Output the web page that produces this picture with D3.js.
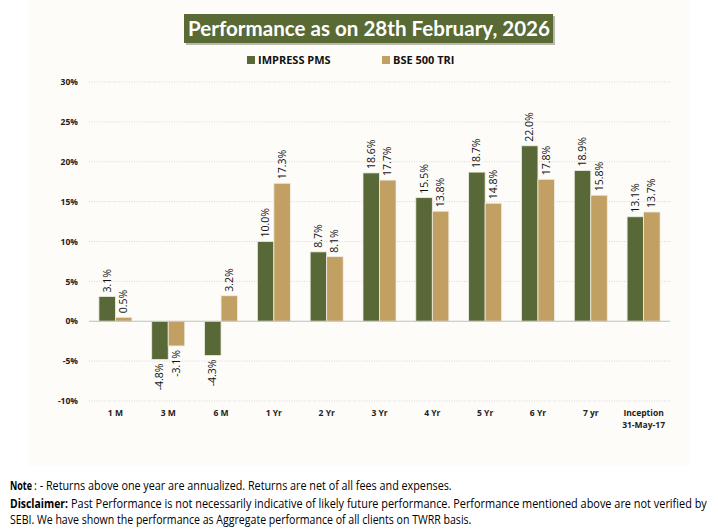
<!DOCTYPE html>
<html>
<head>
<meta charset="utf-8">
<script src="https://cdn.jsdelivr.net/npm/d3@7"></script>
<style>
  body { margin: 0; background: #fff; }
  svg text { font-family: "Open Sans", "DejaVu Sans", sans-serif; }
</style>
</head>
<body>
<div id="chart"></div>
<script>
// data
var periods = ["1 M", "3 M", "6 M", "1 Yr", "2 Yr", "3 Yr", "4 Yr", "5 Yr", "6 Yr", "7 yr", "Inception|31-May-17"];
var impressPms = [3.1, -4.8, -4.3, 10.0, 8.7, 18.6, 15.5, 18.7, 22.0, 18.9, 13.1];
var bse500Tri = [0.5, -3.1, 3.2, 17.3, 8.1, 17.7, 13.8, 14.8, 17.8, 15.8, 13.7];
var seriesNames = ["IMPRESS PMS", "BSE 500 TRI"];
var yTicks = [-10, -5, 0, 5, 10, 15, 20, 25, 30];

var svgWidth = 718, svgHeight = 529;
var margin = { top: 82, right: 48, bottom: 128, left: 89 };
var width = svgWidth - margin.left - margin.right;
var height = svgHeight - margin.top - margin.bottom;

var colors = ["#586937", "#c29f63"];

var svg = d3.select("#chart").append("svg")
  .attr("width", svgWidth)
  .attr("height", svgHeight);

// panel background
svg.append("rect")
  .attr("x", 28).attr("y", 0)
  .attr("width", 662).attr("height", 466)
  .attr("fill", "#fdfcf9");

// title box
svg.append("rect")
  .attr("x", 186).attr("y", 16).attr("width", 369).attr("height", 29)
  .attr("fill", "#b9b9b0");
svg.append("rect")
  .attr("x", 184).attr("y", 14).attr("width", 369).attr("height", 29)
  .attr("fill", "#596a35");
svg.append("text")
  .attr("x", 188).attr("y", 36)
  .attr("fill", "#fff")
  .attr("font-size", "21px")
  .attr("font-weight", "bold")
  .attr("textLength", 362)
  .attr("lengthAdjust", "spacingAndGlyphs")
  .style("font-family", "Lato, 'Open Sans', sans-serif")
  .text("Performance as on 28th February, 2026");

// legend
var legendX = [247, 382];
seriesNames.forEach(function(name, i) {
  svg.append("rect")
    .attr("x", legendX[i]).attr("y", 56)
    .attr("width", 8).attr("height", 8)
    .attr("fill", colors[i]);
  svg.append("text")
    .attr("x", legendX[i] + 11).attr("y", 64)
    .attr("font-size", "11px")
    .attr("font-weight", "bold")
    .attr("fill", "#111")
    .text(name);
});

var chartGroup = svg.append("g")
  .attr("transform", `translate(${margin.left}, ${margin.top})`);

var x0 = d3.scaleBand().domain(periods).range([0, width]).paddingInner(0.375).paddingOuter(0.1875);
var x1 = d3.scaleBand().domain([0, 1]).range([0, x0.bandwidth()]);
var y = d3.scaleLinear().domain([-10, 30]).range([height, 0]);

// gridlines
chartGroup.append("g")
  .selectAll("line")
  .data(yTicks.filter(d => d !== 0))
  .enter()
  .append("line")
  .attr("x1", 0).attr("x2", width)
  .attr("y1", d => y(d)).attr("y2", d => y(d))
  .attr("stroke", "#d9d9d9")
  .attr("stroke-dasharray", "1,1.5");

// y axis labels
var yAxis = d3.axisLeft(y).tickValues(yTicks).tickFormat(d => d + "%").tickSize(0).tickPadding(11);
var yG = chartGroup.append("g").call(yAxis);
yG.select(".domain").remove();
yG.selectAll("text")
  .attr("font-size", "8.5px")
  .attr("font-weight", "bold")
  .attr("fill", "#222");

// bars
var rows = periods.map((p, i) => ({ period: p, values: [impressPms[i], bse500Tri[i]] }));

var groups = chartGroup.selectAll(".grp")
  .data(rows)
  .enter()
  .append("g")
  .attr("transform", d => `translate(${x0(d.period)},0)`);

groups.selectAll("rect")
  .data(d => d.values.map((v, k) => ({ k: k, v: v })))
  .enter()
  .append("rect")
  .attr("x", d => x1(d.k))
  .attr("width", x1.bandwidth())
  .attr("y", d => y(Math.max(0, d.v)))
  .attr("height", d => Math.abs(y(d.v) - y(0)))
  .attr("fill", d => colors[d.k])
  .attr("stroke", "#eeeee4")
  .attr("stroke-width", 0.8);

// value labels, rotated
groups.selectAll(".val")
  .data(d => d.values.map((v, k) => ({ k: k, v: v })))
  .enter()
  .append("text")
  .attr("transform", function(d) {
    var cx = x1(d.k) + x1.bandwidth() / 2 + 3.5;
    var yy = d.v >= 0 ? y(d.v) - 4 : y(d.v) + 4;
    return `translate(${cx},${yy}) rotate(-90)`;
  })
  .attr("text-anchor", d => d.v >= 0 ? "start" : "end")
  .attr("font-size", "10.5px")
  .attr("fill", "#111")
  .text(d => d.v.toFixed(1) + "%");

// zero line
chartGroup.append("line")
  .attr("x1", 0).attr("x2", width)
  .attr("y1", y(0)).attr("y2", y(0))
  .attr("stroke", "#bfbfbf")
  .attr("stroke-width", 1.2);

// x labels
var xLab = chartGroup.selectAll(".xlab")
  .data(periods)
  .enter()
  .append("text")
  .attr("x", d => x0(d) + x0.bandwidth() / 2)
  .attr("y", height + 15)
  .attr("text-anchor", "middle")
  .attr("font-size", "8.5px")
  .attr("font-weight", "bold")
  .attr("fill", "#222");
xLab.each(function(d) {
  var parts = d.split("|");
  var t = d3.select(this);
  parts.forEach(function(p, i) {
    t.append("tspan")
      .attr("x", x0(d) + x0.bandwidth() / 2)
      .attr("dy", i === 0 ? 0 : 12)
      .text(p);
  });
});

// footer notes (narrow font in the original, so squeeze horizontally)
function footText(x, yy, len, txt, bold) {
  var t = svg.append("text")
    .attr("x", 0).attr("y", 0)
    .attr("font-size", "12px")
    .attr("font-weight", bold ? "bold" : "normal")
    .attr("fill", "#000")
    .text(txt);
  var sx = len / t.node().getComputedTextLength();
  t.attr("transform", `translate(${x},${yy}) scale(${sx},1)`);
}
footText(10, 490, 22, "Note", true);
footText(34, 490, 418, ": - Returns above one year are annualized. Returns are net of all fees and expenses.", false);
footText(10, 508, 58, "Disclaimer:", true);
footText(71, 508, 636, "Past Performance is not necessarily indicative of likely future performance. Performance mentioned above are not verified by", false);
footText(10, 524, 462, "SEBI. We have shown the performance as Aggregate performance of all clients on TWRR basis.", false);
</script>
</body>
</html>
